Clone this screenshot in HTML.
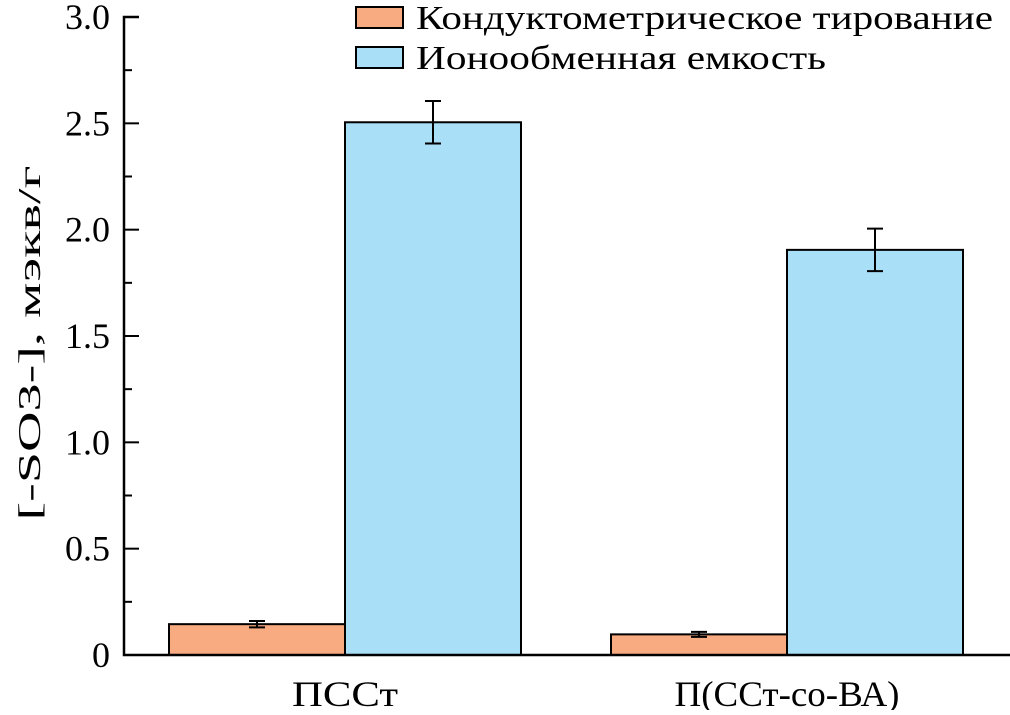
<!DOCTYPE html>
<html><head><meta charset="utf-8"><style>
body{margin:0;background:#fff}
text{font-family:"Liberation Serif","DejaVu Serif",serif;fill:#000}
</style></head><body>
<svg id="chart" width="1010" height="710" xmlns="http://www.w3.org/2000/svg">
<g id="bars"></g>
<g id="axes"></g>
<g>
<rect x="356" y="7" width="47" height="21" fill="#f8aa80" stroke="#000" stroke-width="2"/>
<text x="416" y="29" font-size="34" textLength="577" lengthAdjust="spacingAndGlyphs">Кондуктометрическое тирование</text>
<rect x="356" y="47" width="47" height="21" fill="#aadff8" stroke="#000" stroke-width="2"/>
<text x="416" y="69" font-size="34" textLength="410" lengthAdjust="spacingAndGlyphs">Ионообменная емкость</text>
</g>
<text transform="translate(40,343) rotate(-90)" text-anchor="middle" font-size="32" textLength="355" lengthAdjust="spacingAndGlyphs">[-SO3-], мэкв/г</text>
</svg>
<script>
const categories=["ПССт","П(ССт-со-ВА)"];
const conductValues=[0.145,0.097];
const conductErrors=[0.015,0.012];
const ionValues=[2.505,1.905];
const ionErrors=[0.1,0.1];
const yTicks=[0,0.5,1.0,1.5,2.0,2.5,3.0];
const yTickLabels=["0","0.5","1.0","1.5","2.0","2.5","3.0"];
const NS="http://www.w3.org/2000/svg";
const x0=124,y0=655,yTop=17,yMax=3;
function ys(v){return y0-(v/yMax)*(y0-yTop);}
const groupStarts=[169,611],bw=176;
const labelWidths=[106,225];
function mk(t,a,p){const e=document.createElementNS(NS,t);for(const k in a)e.setAttribute(k,a[k]);p.appendChild(e);return e;}
const bars=document.getElementById('bars'),axes=document.getElementById('axes');
function bar(x,v,err,fill,name){
 const r=mk('rect',{x:x,y:ys(v),width:bw,height:y0-ys(v),fill:fill,stroke:'#000','stroke-width':2},bars);
 
 
 const cx=x+bw/2,t=ys(v+err),b=ys(v-err);
 const g=mk('path',{d:`M${cx},${t}V${b}M${cx-8},${t}H${cx+8}M${cx-8},${b}H${cx+8}`,stroke:'#000','stroke-width':2,fill:'none'},bars);
 
 
}
categories.forEach((c,i)=>{
 bar(groupStarts[i],conductValues[i],conductErrors[i],'#f8aa80','bar-conductometric-'+i);
 bar(groupStarts[i]+bw,ionValues[i],ionErrors[i],'#aadff8','bar-ion-exchange-'+i);
 const t=mk('text',{x:groupStarts[i]+bw,y:706,'text-anchor':'middle','font-size':36,textLength:labelWidths[i],lengthAdjust:'spacingAndGlyphs'},axes);
 t.textContent=c;
 
 
});
const ya=mk('path',{d:`M${x0+15},${yTop}H${x0}V${y0}H1010`,stroke:'#000','stroke-width':2.5,fill:'none'},axes);


yTicks.forEach((v,i)=>{
 const y=ys(v);
 const tk=mk('line',{x1:x0,x2:x0+15,y1:y,y2:y,stroke:'#000','stroke-width':2},axes);
 
 
 if(i<yTicks.length-1){const m=ys(v+0.25);
  const mt=mk('line',{x1:x0,x2:x0+8,y1:m,y2:m,stroke:'#000','stroke-width':2},axes);
  
  }
 const l=mk('text',{x:110,y:y+12,'text-anchor':'end','font-size':36},axes);
 l.textContent=yTickLabels[i];
 
 
});
</script>
</body></html>
